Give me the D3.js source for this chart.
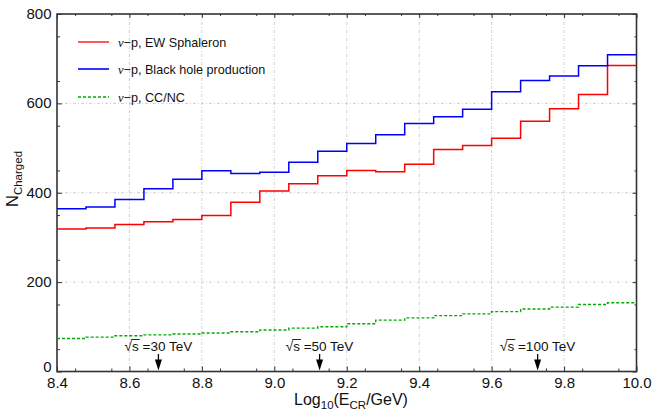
<!DOCTYPE html>
<html>
<head>
<meta charset="utf-8">
<script src="https://cdn.jsdelivr.net/npm/d3@7"></script>
<style>
  html, body { margin: 0; padding: 0; background: #fff; }
  svg { display: block; font-family: "Liberation Sans", Arial, Helvetica, sans-serif; }
</style>
</head>
<body>
<svg id="chart" width="652" height="410"></svg>
<script>
// ---- data ----
const binEdges = [8.40, 8.48, 8.56, 8.64, 8.72, 8.80, 8.88, 8.96, 9.04, 9.12,
                  9.20, 9.28, 9.36, 9.44, 9.52, 9.60, 9.68, 9.76, 9.84, 9.92, 10.00];
const sphaleron = [319, 321, 329, 335, 340, 349, 379, 404, 420, 438,
                   450, 447, 464, 497, 506, 522, 560, 588, 620, 685];
const blackHole = [364, 368, 385, 409, 430, 449, 443, 446, 468, 493,
                   510, 530, 555, 570, 587, 626, 651, 661, 684, 709];
const ccnc      = [74, 77, 80, 82, 84, 86, 89, 93, 97, 100,
                   107, 115, 120, 125, 129, 134, 140, 144, 150, 154];
const xTicks = [8.4, 8.6, 8.8, 9.0, 9.2, 9.4, 9.6, 9.8, 10.0];
const yTicks = [0, 200, 400, 600, 800];
const seriesNames = ["EW Sphaleron", "Black hole production", "CC/NC"];
const markerX = [8.68, 9.125, 9.727];
const markerLabels = ["30 TeV", "50 TeV", "100 TeV"];

// ---- layout ----
const svg = d3.select("#chart");
const L = 57, R = 636.5, T = 14, B = 371.5;
const x = d3.scaleLinear().domain([8.4, 10.0]).range([L, R]);
const y = d3.scaleLinear().domain([0, 800]).range([B, T]);

// grid
const grid = svg.append("g").attr("stroke", "#cfcfcf").attr("stroke-width", 1)
  .attr("stroke-dasharray", "3,2,1,2");
xTicks.slice(1, -1).forEach(v => grid.append("line")
  .attr("x1", x(v)).attr("x2", x(v)).attr("y1", T).attr("y2", B));
yTicks.slice(1, -1).forEach(v => grid.append("line")
  .attr("x1", L).attr("x2", R).attr("y1", y(v)).attr("y2", y(v)));

// axes (ticks inside)
const fmtX = d => d3.format(".1f")(d);
const axB = svg.append("g").attr("transform", `translate(0,${B})`)
  .call(d3.axisBottom(x).tickValues(xTicks).tickFormat(fmtX).tickSizeInner(-5).tickSizeOuter(0).tickPadding(6));
const axBm = svg.append("g").attr("transform", `translate(0,${B})`)
  .call(d3.axisBottom(x).tickValues(d3.range(8.45, 10.0, 0.1)).tickFormat("").tickSizeInner(-3).tickSizeOuter(0));
const axT = svg.append("g").attr("transform", `translate(0,${T})`)
  .call(d3.axisTop(x).tickValues(xTicks).tickFormat("").tickSizeInner(-4).tickSizeOuter(0));
const axTm = svg.append("g").attr("transform", `translate(0,${T})`)
  .call(d3.axisTop(x).tickValues(d3.range(8.45, 10.0, 0.1)).tickFormat("").tickSizeInner(-2).tickSizeOuter(0));
const axL = svg.append("g").attr("transform", `translate(${L},0)`)
  .call(d3.axisLeft(y).tickValues(yTicks).tickFormat(d3.format("d")).tickSizeInner(-5).tickSizeOuter(0).tickPadding(5.5));
const axLm = svg.append("g").attr("transform", `translate(${L},0)`)
  .call(d3.axisLeft(y).tickValues(d3.range(50, 800, 100)).tickFormat("").tickSizeInner(-3).tickSizeOuter(0));
const axR = svg.append("g").attr("transform", `translate(${R},0)`)
  .call(d3.axisRight(y).tickValues(yTicks).tickFormat("").tickSizeInner(-4).tickSizeOuter(0));
const axRm = svg.append("g").attr("transform", `translate(${R},0)`)
  .call(d3.axisRight(y).tickValues(d3.range(50, 800, 100)).tickFormat("").tickSizeInner(-2).tickSizeOuter(0));
[axB, axBm, axT, axTm, axL, axLm, axR, axRm].forEach(g => {
  g.select(".domain").remove();
  g.selectAll(".tick line").attr("stroke", "#333").attr("stroke-width", 1);
  g.selectAll("text").attr("fill", "#111").style("font-size", "15px")
   .style("font-family", "'Liberation Sans', Arial, sans-serif");
});
axL.selectAll("text").attr("dy", d => d === 0 ? "0em" : "0.3em");

// frame
svg.append("rect").attr("x", L).attr("y", T).attr("width", R - L).attr("height", B - T)
  .attr("fill", "none").attr("stroke", "#333").attr("stroke-width", 1.6);

// step lines
const line = d3.line().x(d => x(d[0])).y(d => y(d[1])).curve(d3.curveStepAfter);
function pts(vals) {
  const p = vals.map((v, i) => [binEdges[i], v]);
  p.push([binEdges[binEdges.length - 1], vals[vals.length - 1]]);
  return p;
}
const plot = svg.append("g");
plot.append("path").datum(pts(ccnc)).attr("d", line)
  .attr("fill", "none").attr("stroke", "#00aa00").attr("stroke-width", 1.4).attr("stroke-dasharray", "3,2");
plot.append("path").datum(pts(sphaleron)).attr("d", line)
  .attr("fill", "none").attr("stroke", "#ff0000").attr("stroke-width", 1.5);
plot.append("path").datum(pts(blackHole)).attr("d", line)
  .attr("fill", "none").attr("stroke", "#0000ff").attr("stroke-width", 1.5);

// legend
const legColors = ["#ff0000", "#3333ff", "#00aa00"];
const legY = [42, 69, 97];
seriesNames.forEach((name, i) => {
  const g = svg.append("g");
  g.append("line").attr("x1", 78).attr("x2", 109).attr("y1", legY[i]).attr("y2", legY[i])
    .attr("stroke", legColors[i]).attr("stroke-width", i === 1 ? 2 : 1.3)
    .attr("stroke-dasharray", i === 2 ? "3,2" : null);
  const t = g.append("text").attr("x", 118).attr("y", legY[i] + 4.5)
    .style("font-size", "12.6px").attr("fill", "#111");
  t.append("tspan").text("ν").style("font-family", "'Liberation Serif', serif").style("font-style", "italic");
  t.append("tspan").text("−p, " + name);
});

// sqrt(s) markers
markerX.forEach((v, i) => {
  const cx = x(v);
  const g = svg.append("g");
  g.append("line").attr("x1", cx).attr("x2", cx).attr("y1", 354).attr("y2", 362)
    .attr("stroke", "#000").attr("stroke-width", 1.3);
  g.append("path").attr("d", `M${cx - 3.5},${359.5} L${cx + 3.5},${359.5} L${cx},${370.5} Z`).attr("fill", "#000");
  const t = g.append("text").attr("y", 351).style("font-size", "13.5px").attr("fill", "#111")
    .attr("text-anchor", "middle");
  t.append("tspan").text("√");
  t.append("tspan").text("s");
  t.append("tspan").text(" =" + markerLabels[i]);
  t.attr("x", cx);
  // overline over "s"
  const node = t.node();
  const ext = node.getExtentOfChar(1);
  g.append("line").attr("x1", ext.x - 1).attr("x2", ext.x + ext.width + 1)
    .attr("y1", ext.y + 0.5).attr("y2", ext.y + 0.5).attr("stroke", "#111").attr("stroke-width", 0.9);
});

// axis titles
const xt = svg.append("text").attr("x", 351).attr("y", 405).attr("text-anchor", "middle")
  .style("font-size", "16px").attr("fill", "#111");
xt.append("tspan").text("Log");
xt.append("tspan").text("10").style("font-size", "11.5px").attr("dy", 4);
xt.append("tspan").text("(E").attr("dy", -4);
xt.append("tspan").text("CR").style("font-size", "11.5px").attr("dy", 4);
xt.append("tspan").text("/GeV)").attr("dy", -4);

const yt = svg.append("text").attr("transform", "translate(18,207) rotate(-90)")
  .attr("text-anchor", "start").style("font-size", "16.5px").attr("fill", "#111");
yt.append("tspan").text("N");
yt.append("tspan").text("Charged").style("font-size", "11.5px").attr("dy", 4);
</script>
</body>
</html>
